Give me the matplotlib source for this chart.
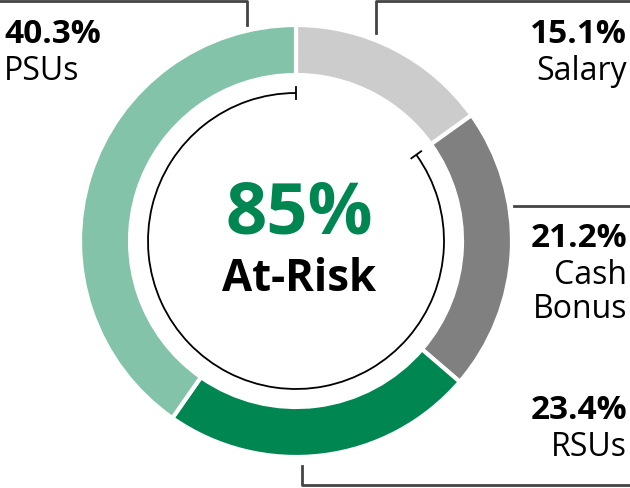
import matplotlib.pyplot as plt
from matplotlib.patches import Arc
import numpy as np

# share of pay, clockwise from top
labels = ['Salary', 'Cash\nBonus', 'RSUs', 'PSUs']
shares = [15.1, 21.2, 23.4, 40.3]
colors = ['#cccccc', '#808080', '#008751', '#82c3a9']
at_risk = 85

W, H = 630, 488
fig = plt.figure(figsize=(W / 100, H / 100), dpi=100)
ax = fig.add_axes([0, 0, 1, 1])

cx, cy = 296, H - 241   # pixel space, y up
r_out, ring = 216, 50

ax.pie(shares, colors=colors, startangle=90, counterclock=False,
       center=(cx, cy), radius=r_out,
       wedgeprops=dict(width=ring, edgecolor='white', linewidth=3))

# thin arc for the at-risk part
r_thin = 148
start = 90
end = 90 + 360 * (100 - shares[0]) / 100
ax.add_patch(Arc((cx, cy), 2 * r_thin, 2 * r_thin, theta1=start, theta2=end,
                 color='black', lw=1.3))
for a in (start, end):
    t = np.radians(a)
    ax.plot([cx + (r_thin - 6) * np.cos(t), cx + (r_thin + 6) * np.cos(t)],
            [cy + (r_thin - 6) * np.sin(t), cy + (r_thin + 6) * np.sin(t)],
            color='black', lw=1.3)

ax.set_xlim(0, W)
ax.set_ylim(0, H)
ax.set_aspect('equal')
ax.axis('off')

fam = 'Open Sans'
ax.text(cx + 3, H - 233, f'{at_risk}%', ha='center', va='baseline',
        fontsize=52, fontweight='bold', color='#008751', family=fam)
ax.text(cx + 3, H - 291, 'At-Risk', ha='center', va='baseline',
        fontsize=31.5, fontweight='bold', color='black', family=fam)

# labels
pos = {  # x, baseline of percent, ha
    'PSUs': (4, 43, 'left'),
    'Salary': (627, 43, 'right'),
    'Cash\nBonus': (627, 247, 'right'),
    'RSUs': (627, 419, 'right'),
}
for lab, val in zip(labels, shares):
    x, yb, ha = pos[lab]
    ax.text(x, H - yb, f'{val}%', ha=ha, va='baseline', fontsize=24,
            fontweight='bold', color='black', family=fam)
    for i, line in enumerate(lab.split('\n')):
        ax.text(x, H - (yb + 37 + 34 * i), line, ha=ha, va='baseline',
                fontsize=23, color='black', family=fam)

# leader lines
lc = '#444444'
ax.plot([0, 247, 247], [H - 1, H - 1, H - 25], color=lc, lw=2)
ax.plot([376, 376, W], [H - 33, H - 1, H - 1], color=lc, lw=2)
ax.plot([514, W], [H - 206, H - 206], color=lc, lw=2)
ax.plot([302, 302, W], [H - 466, H - 485, H - 485], color=lc, lw=2)

fig.savefig('out.png', dpi=100)
